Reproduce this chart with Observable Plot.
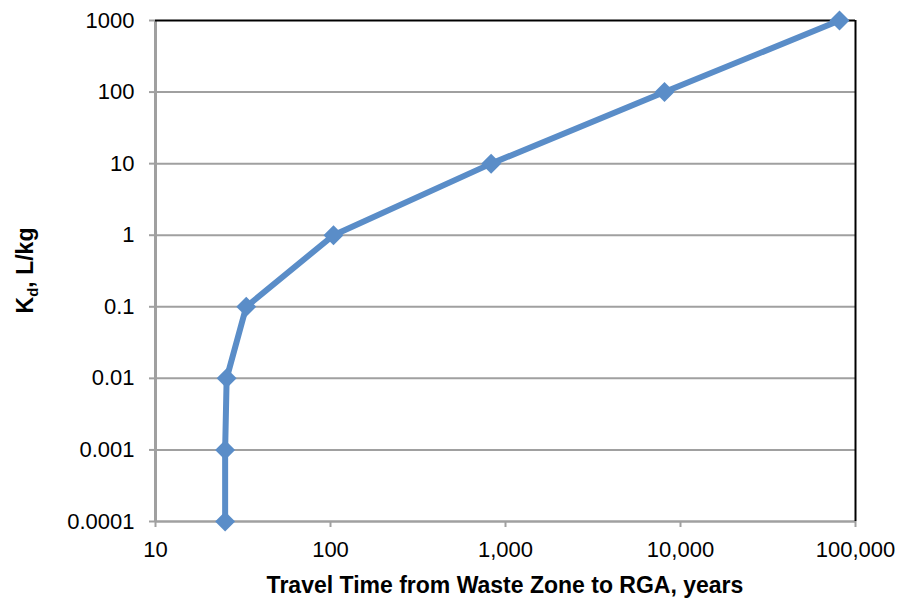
<!DOCTYPE html>
<html>
<head>
<meta charset="utf-8">
<script src="https://cdn.jsdelivr.net/npm/d3@7"></script>
<script src="https://cdn.jsdelivr.net/npm/@observablehq/plot@0.6"></script>
<style>
  html, body { margin: 0; padding: 0; background: #fff; }
  #chart { width: 901px; height: 600px; }
</style>
</head>
<body>
<div id="chart"></div>
<script>
// Data
const kdValues = [0.0001, 0.001, 0.01, 0.1, 1, 10, 100, 1000];
const travelYears = [25, 25, 25.5, 33, 104, 828, 8100, 81000];
const xTicks = [10, 100, 1000, 10000, 100000];
const yTicks = [0.0001, 0.001, 0.01, 0.1, 1, 10, 100, 1000];
const xTitle = "Travel Time from Waste Zone to RGA, years";

const data = kdValues.map((k, i) => ({kd: k, years: travelYears[i]}));
const blue = "#5A8DC8";
const grid = "#a0a0a0";

const W = 901, H = 600;
const mL = 155, mR = 46, mT = 20, mB = 79;

const chart = Plot.plot({
  width: W, height: H,
  marginTop: mT, marginLeft: mL, marginRight: mR, marginBottom: mB,
  style: {fontFamily: "'Liberation Sans', Arial, sans-serif", fontSize: "22px", background: "#fff", color: "#000", overflow: "visible"},
  x: {type: "log", domain: [10, 100000]},
  y: {type: "log", domain: [0.0001, 1000]},
  marks: [
    Plot.ruleY(yTicks.slice(1, -1), {stroke: grid, strokeWidth: 2}),
    Plot.axisY({ticks: yTicks, tickFormat: d => String(d), tickSize: 6, tickPadding: 15, stroke: grid, strokeWidth: 2, fill: "#000", label: null, fontSize: 22}),
    Plot.axisX({ticks: xTicks, tickFormat: d3.format(","), tickSize: 6, tickPadding: 14, stroke: grid, strokeWidth: 2, fill: "#000", label: null, fontSize: 22}),
    Plot.ruleY([0.0001], {stroke: grid, strokeWidth: 2.5}),
    Plot.ruleX([10], {stroke: grid, strokeWidth: 3}),
    Plot.ruleY([1000], {stroke: "#000", strokeWidth: 2}),
    Plot.ruleX([100000], {stroke: "#000", strokeWidth: 2}),
    Plot.line(data, {x: "years", y: "kd", stroke: blue, strokeWidth: 6, strokeLinejoin: "round"}),
    Plot.dot(data, {x: "years", y: "kd", symbol: "diamond2", r: 9, fill: blue, stroke: "none"})
  ]
});

document.getElementById("chart").appendChild(chart);

const svg = d3.select(chart);
// x-axis title
svg.append("text")
  .attr("x", mL + (W - mL - mR) / 2)
  .attr("y", 593)
  .attr("text-anchor", "middle")
  .attr("font-weight", "bold")
  .attr("font-size", 23)
  .attr("fill", "#000")
  .text(xTitle);
// y-axis title with subscript
const yt = svg.append("text")
  .attr("transform", `translate(33,${mT + (H - mT - mB) / 2}) rotate(-90)`)
  .attr("text-anchor", "middle")
  .attr("font-weight", "bold")
  .attr("font-size", 23)
  .attr("fill", "#000");
yt.append("tspan").text("K");
yt.append("tspan").attr("font-size", 15).attr("dy", 5).text("d");
yt.append("tspan").attr("dy", -5).text(", L/kg");
</script>
</body>
</html>
